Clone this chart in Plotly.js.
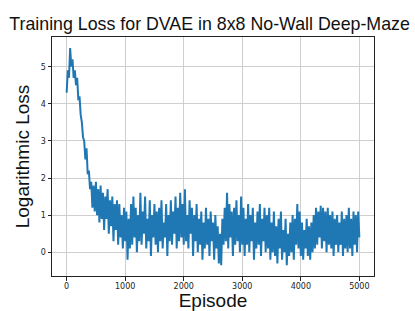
<!DOCTYPE html>
<html>
<head>
<meta charset="utf-8">
<script src="https://cdn.plot.ly/plotly-3.0.1.min.js"></script>
<style>html,body{margin:0;padding:0;background:#fff}#chart{width:415px;height:311px}</style>
</head>
<body>
<div id="chart"></div>
<script>
const EPISODE_STEP = 20;
const lossEarly = [4.3,4.9,4.7,5.5,5.0,5.2,4.7,4.9,4.5,4.7,4.1,4.2,3.7,3.5,3.1,3.0,2.5,2.8,2.1,2.2,1.7];
const lossTo1000 = [1.9,1.2,1.8,1.1,1.9,1.0,1.7,0.8,1.8,0.9,1.6,0.6,1.5,0.9,1.7,0.5,1.4,0.7,1.5,0.3,1.3,0.6,1.4,0.2,1.3,0.4,1.0,0.1,1.2,0.3];
const lossTo2000 = [1.1,-0.2,0.9,0.1,1.3,0.2,1.5,0.4,1.2,0.0,1.0,0.3,1.6,0.2,1.1,0.5,1.5,0.1,0.9,0.3,1.4,-0.1,1.0,0.4,1.3,0.2,1.1,0.0,1.2,0.3,1.4,0.1,0.8,0.4,1.3,-0.1,1.0,0.3,1.4,0.2,1.1,0.5,1.5,0.1,1.2,0.3,1.6,0.4,1.3,0.2];
const lossTo3000 = [1.7,0.3,1.0,0.1,1.4,0.5,1.2,-0.1,1.0,0.3,1.3,0.0,0.9,0.2,1.1,-0.2,0.8,0.1,1.2,0.2,0.9,-0.1,1.1,0.3,0.8,-0.2,1.0,0.1,0.7,-0.3,0.5,-0.35,0.9,0.2,1.2,0.3,1.6,0.1,1.3,0.4,1.1,-0.1,1.2,0.2,1.4,0.3,1.0,0.0,1.5,0.2];
const lossTo4000 = [1.2,-0.1,0.9,0.2,1.3,0.0,1.0,0.3,1.2,-0.2,0.8,0.1,1.1,0.2,1.3,-0.1,0.9,0.3,1.2,0.0,1.0,0.1,1.2,-0.2,0.8,0.0,1.1,-0.1,0.7,-0.3,0.9,0.1,1.1,-0.2,0.6,0.0,0.9,-0.35,0.5,-0.1,0.8,0.0,1.0,-0.2,0.9,0.2,1.3,0.1,1.1,-0.1];
const lossTo5000 = [0.8,-0.2,0.6,0.1,0.9,-0.1,0.7,-0.2,0.8,0.0,1.0,0.1,1.2,0.2,1.1,0.4,1.25,0.1,1.2,0.3,1.1,0.0,1.2,0.2,1.0,0.1,1.1,-0.1,0.9,0.2,1.0,0.0,0.8,0.2,1.1,-0.1,0.9,0.1,1.0,0.0,1.2,0.1,0.9,-0.1,1.1,0.2,1.0,0.0,1.1,0.4];

const loss = [].concat(lossEarly, lossTo1000, lossTo2000, lossTo3000, lossTo4000, lossTo5000);
const episodes = loss.map((_, i) => i * EPISODE_STEP);

const xTicks = [0, 1000, 2000, 3000, 4000, 5000];
const yTicks = [0, 1, 2, 3, 4, 5];

const trace = {
  x: episodes, y: loss, type: 'scatter', mode: 'lines',
  line: {color: '#1f77b4', width: 2}, hoverinfo: 'skip'
};

const axisCommon = {
  showgrid: true, gridcolor: '#cfcfcf', gridwidth: 1,
  zeroline: false, showline: true, linecolor: '#222', linewidth: 1, mirror: true,
  ticks: 'outside', ticklen: 3.5, tickwidth: 1, tickcolor: '#222',
  tickfont: {family: 'DejaVu Sans', size: 8, color: '#222'}
};

const layout = {
  width: 415, height: 311,
  margin: {l: 52, r: 41, t: 37, b: 35},
  paper_bgcolor: '#fff', plot_bgcolor: '#fff',
  showlegend: false,
  title: {text: 'Training Loss for DVAE in 8x8 No-Wall Deep-Maze',
          font: {family: 'Liberation Sans', size: 17.8, color: '#111'},
          x: 0.505, xref: 'container', xanchor: 'center', y: 0.925, yref: 'container', yanchor: 'middle'},
  xaxis: Object.assign({}, axisCommon, {
    range: [-250, 5250], tickvals: xTicks, ticktext: xTicks.map(String), ticklabelstandoff: -1,
    title: {text: 'Episode', font: {family: 'Liberation Sans', size: 19, color: '#111'}, standoff: 5}
  }),
  yaxis: Object.assign({}, axisCommon, {
    range: [-0.64, 5.8], tickvals: yTicks, ticktext: yTicks.map(String),
    title: {text: 'Logarithmic Loss', font: {family: 'Liberation Sans', size: 19, color: '#111'}, standoff: 6}
  })
};

Plotly.newPlot('chart', [trace], layout, {staticPlot: true, displayModeBar: false});
</script>
</body>
</html>
